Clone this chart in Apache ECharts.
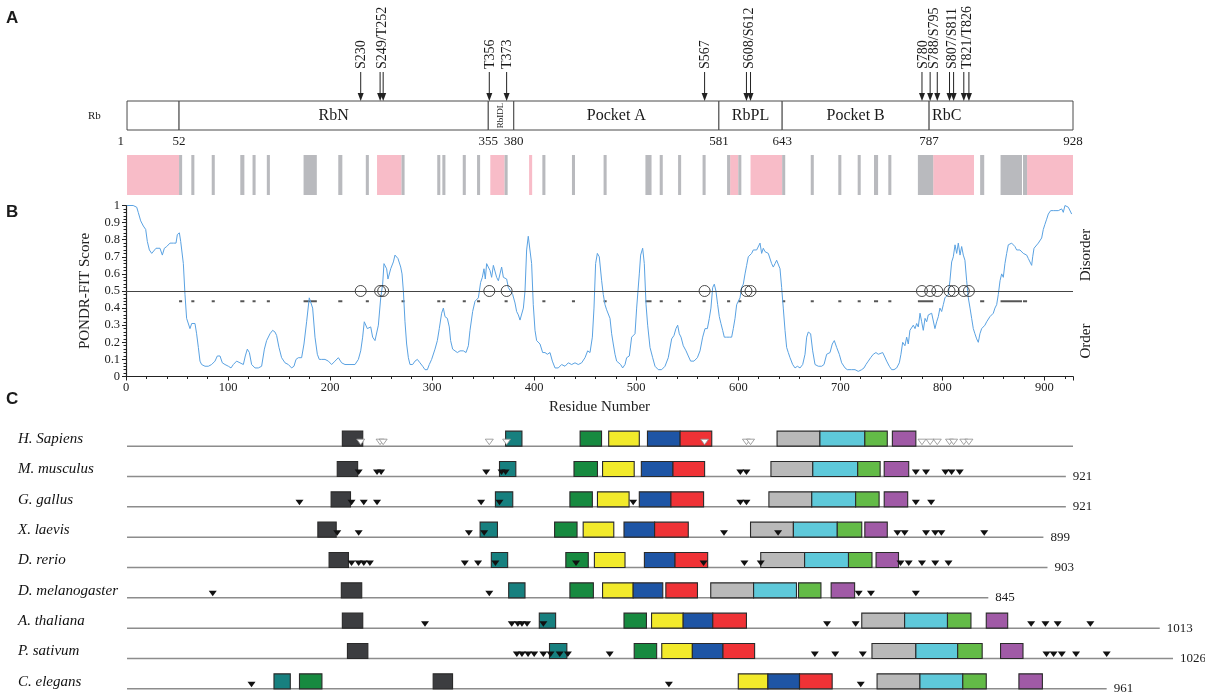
<!DOCTYPE html>
<html><head><meta charset="utf-8">
<script src="https://cdn.jsdelivr.net/npm/echarts@6/dist/echarts.min.js"></script>
<style>html,body{margin:0;padding:0;background:#fff}#c{width:1205px;height:697px}</style>
</head><body><div id="c"></div>
<script>
// ---------------- data ----------------
// Panel A: Rb domain boundaries and names
const domainBounds = [1, 52, 355, 380, 581, 643, 787, 928];
const domainNames = ['', 'RbN', 'RbIDL', 'Pocket A', 'RbPL', 'Pocket B', 'RbC'];
// phosphorylation sites (human Rb)
const phosphoSites = [230, 249, 252, 356, 373, 567, 608, 612, 780, 788, 795, 807, 811, 821, 826];
const siteLabels = ['S230', 'S249/T252', 'T356', 'T373', 'S567', 'S608/S612', 'S780', 'S788/S795', 'S807/S811', 'T821/T826'];
// disorder stripe (pink) and MoRF-like stripes (grey), residues
const pinkRegions = [[1, 52], [246, 270], [357, 371], [395, 398], [592, 600], [612, 643], [791, 831], [883, 928]];
const grayRegions = [[52, 55], [64, 67], [84, 87], [112, 116], [124, 127], [138, 141], [174, 187], [208, 212],
  [235, 238], [270, 273], [305, 308], [310, 313], [330, 333], [344, 347], [371, 374], [408, 411], [437, 440],
  [468, 471], [509, 515], [523, 526], [541, 544], [565, 568], [589, 592], [600, 603], [643, 646], [671, 674],
  [698, 701], [717, 720], [733, 737], [747, 750], [776, 791], [837, 841], [857, 878], [879, 883]];
// Panel B: PONDR-FIT score [residue, score]
const pondrFit = [[1,1.0],[7,1.0],[10.5,0.99],[12,0.96],[14.4,0.91],[17,0.88],[19.3,0.86],[20.9,0.79],[22.9,0.74],[25.2,0.72],[26.8,0.73],[29.4,0.75],[31,0.74],[33.3,0.75],[35.6,0.71],[37.6,0.75],[39.9,0.76],[43.1,0.78],[46.4,0.78],[49,0.78],[50.3,0.83],[52.3,0.84],[53.6,0.79],[54.9,0.79],[56.2,0.66],[57.8,0.48],[59.4,0.34],[61.1,0.33],[62.7,0.28],[64.4,0.31],[66,0.32],[67.6,0.31],[69.2,0.25],[70.9,0.17],[72.5,0.09],[74.1,0.07],[77.4,0.06],[80.7,0.06],[83.9,0.07],[87.2,0.09],[89.5,0.12],[92.1,0.12],[94.4,0.08],[97,0.07],[100.3,0.06],[102.9,0.05],[105.2,0.07],[108.4,0.09],[111.7,0.08],[115,0.07],[116.9,0.12],[118.9,0.16],[120.9,0.14],[123.1,0.07],[126.4,0.05],[129.7,0.05],[132.9,0.06],[135.6,0.16],[137.8,0.21],[141.1,0.25],[143.7,0.27],[146,0.26],[147.6,0.24],[149.9,0.17],[152.5,0.11],[155.8,0.08],[159.1,0.07],[162.3,0.05],[164.6,0.06],[166.6,0.1],[168.9,0.11],[172.1,0.11],[174.4,0.19],[177,0.32],[179.6,0.46],[181.3,0.47],[182.9,0.4],[185.2,0.23],[187.5,0.13],[189.4,0.1],[191.7,0.1],[195,0.1],[198.3,0.09],[201.5,0.07],[204.8,0.09],[208.1,0.11],[211.3,0.08],[214.6,0.07],[219.5,0.07],[224.4,0.07],[227.7,0.1],[230,0.15],[231.9,0.23],[233.5,0.32],
[235.2,0.33],[236.5,0.28],[238.4,0.29],[239.8,0.29],[241.7,0.23],[244,0.21],[245.6,0.21],[247.3,0.3],[249.6,0.46],[251.5,0.54],[252.8,0.66],[254.1,0.67],[255.4,0.63],[256.7,0.57],[258,0.58],[259.4,0.63],[260.7,0.63],[262,0.67],[263.6,0.71],[265.2,0.72],[266.5,0.69],[267.8,0.7],[269.2,0.64],[270.5,0.6],[271.8,0.5],[273.4,0.32],[275,0.19],[276.7,0.11],[278.3,0.07],[280.9,0.07],[283.2,0.09],[285.5,0.1],[288.1,0.08],[290.7,0.06],[293,0.04],[295.3,0.04],[297.2,0.07],[299.5,0.1],[302.8,0.16],[305.1,0.21],[307,0.28],[309.3,0.37],[311,0.4],[312.6,0.35],[314.9,0.34],[316.8,0.29],[318.1,0.21],[320.1,0.16],[322.4,0.15],[324.7,0.14],[327.3,0.15],[328.9,0.14],[330.6,0.15],[333.2,0.14],[335.5,0.18],[337.1,0.27],[339.7,0.38],[342,0.44],[343.6,0.44],[345.3,0.46],[347.5,0.55],[349.2,0.58],[350.8,0.63],[352.1,0.57],[353.4,0.66],[355.1,0.67],[356.7,0.62],[358.3,0.58],[360,0.65],[361.6,0.64],[363.2,0.58],[364.9,0.56],[366.5,0.6],[368.1,0.64],[369.8,0.58],[371.4,0.57],[373,0.57],[374.7,0.52],[376.3,0.51],[378.9,0.48],[381.2,0.43],[382.8,0.38],[384.5,0.36],[386.1,0.33],[387.7,0.34],[389.4,0.4],[391,0.5],[392.6,0.74],[394.2,0.82],[395.9,0.82],[397.5,0.66],[399.1,0.42],[400.8,0.27],[402.4,0.21],[405.7,0.19],[408.3,0.14],[410.6,0.14],[412.9,0.13],[415.5,0.14],[417.8,0.09],[420.4,0.05],[423.6,0.05],[426.9,0.07],[430.2,0.06],[433.4,0.08],[436.7,0.07],[440,0.08],[443.2,0.07],[446.5,0.08],[449.8,0.11],[452.4,0.15],[454.7,0.14],[457,0.23],[458.6,0.4],[460.2,0.66],[461.9,0.72],[463.8,0.7],
[466.1,0.56],[467.7,0.48],[469.4,0.42],[471,0.39],[472.6,0.39],[474.3,0.34],[475.9,0.25],[477.5,0.19],[479.2,0.13],[480.8,0.09],[482.4,0.08],[484.7,0.07],[486.7,0.05],[489,0.07],[490.6,0.11],[493.2,0.12],[495.5,0.23],[497.1,0.24],[498.8,0.25],[500.4,0.4],[503,0.6],[504.3,0.71],[506.3,0.75],[507.9,0.66],[509.6,0.42],[511.2,0.3],[513.5,0.17],[516.1,0.11],[518.4,0.06],[521.6,0.04],[524.9,0.04],[528.2,0.06],[531.4,0.11],[534.7,0.22],[537,0.24],[538.9,0.28],[540.6,0.3],[542.2,0.25],[543.9,0.23],[546.1,0.18],[548.8,0.15],[551,0.12],[553.3,0.09],[556.6,0.09],[559.9,0.11],[562.5,0.15],[565.1,0.23],[567.4,0.28],[569.7,0.28],[571.6,0.34],[573.2,0.4],[574.9,0.52],[576.5,0.54],[578.1,0.5],[579.8,0.42],[581.4,0.35],[583,0.31],[584.7,0.27],[586.3,0.23],[588.6,0.23],[591.2,0.23],[593.5,0.23],[595.1,0.28],[596.8,0.34],[598.4,0.42],[600,0.42],[601.7,0.46],[603.3,0.52],[604.9,0.54],[606.6,0.6],[608.2,0.65],[609.8,0.7],[611.5,0.69],[613.1,0.72],[614.7,0.74],[616.4,0.73],[618,0.74],[619.6,0.75],[621.3,0.78],[622.9,0.72],[624.5,0.75],[626.2,0.73],[627.8,0.74],[629.4,0.72],[631.1,0.71],[632.7,0.66],[634.3,0.64],[636,0.66],[637.6,0.68],[639.2,0.69],[640.9,0.63],[642.5,0.52],[644.1,0.4],[645.8,0.27],[647.4,0.17],[649,0.14],[650.7,0.11],[653.3,0.07],[655.6,0.05],[657.9,0.06],[660.5,0.05],[663.1,0.07],[665.4,0.13],[667,0.23],[668.6,0.26],[670.9,0.25],[672.9,0.15],[675.2,0.07],[678.4,0.06],[681.7,0.06],[684,0.07],[686.6,0.13],[688.2,0.14],[689.9,0.14],[692.1,0.19],[694.1,0.21],[696.4,0.17],[699,0.13],[701.3,0.08],[704.6,0.05],
[706.8,0.04],[711.1,0.04],[714.4,0.04],[717.6,0.03],[720.9,0.04],[723.2,0.05],[725.1,0.07],[727.4,0.09],[729.7,0.11],[732.3,0.13],[734.9,0.14],[737.2,0.13],[738.9,0.14],[741.5,0.14],[743.1,0.12],[745.4,0.09],[748,0.06],[750.3,0.04],[752.6,0.04],[755.2,0.05],[757.8,0.08],[759.4,0.13],[761.1,0.2],[763.3,0.18],[765,0.23],[766.6,0.19],[768.2,0.27],[769.9,0.28],[771.5,0.3],[773.2,0.28],[774.8,0.31],[776.4,0.29],[778.1,0.37],[779.7,0.32],[781.3,0.27],[783,0.34],[784.6,0.32],[786.2,0.36],[787.8,0.35],[789.5,0.37],[791.1,0.38],[792.7,0.28],[794.4,0.32],[796,0.35],[797.6,0.4],[799.3,0.38],[800.9,0.42],[802.5,0.46],[804.2,0.46],[805.8,0.48],[807.4,0.56],[809.1,0.67],[810.7,0.7],[812.4,0.77],[814,0.72],[815.6,0.78],[817.3,0.71],[818.9,0.76],[820.5,0.71],[822.1,0.68],[823.8,0.56],[825.4,0.46],[827.1,0.4],[828.7,0.34],[830.3,0.28],[831.9,0.25],[833.6,0.22],[835.2,0.2],[836.8,0.25],[838.5,0.28],[840.1,0.28],[841.7,0.3],[843.4,0.32],[845,0.31],[846.6,0.35],[848.3,0.34],[849.9,0.37],[851.5,0.4],[853.2,0.42],[854.8,0.48],[856.5,0.56],[858.1,0.6],[859.7,0.58],[861.3,0.66],[863,0.72],[864.6,0.77],[866.2,0.78],[867.9,0.78],[869.5,0.78],[871.1,0.76],[872.8,0.74],[874.4,0.73],[876,0.74],[877.7,0.73],[879.3,0.72],[881,0.73],[882.6,0.71],[884.2,0.69],[885.9,0.68],[887.5,0.65],[888.5,0.7],[889.8,0.75],[891.7,0.76],[894,0.78],[895.6,0.79],[897.3,0.81],[898.9,0.86],[900.5,0.89],[902.2,0.92],[903.8,0.95],[906.1,0.97],[908.7,0.97],[911.3,0.97],[913.6,0.97],[915.2,0.96],[916.9,0.98],[918.5,0.96],[920.1,1.0],[921.8,0.99],[923.4,0.99],[925,0.98],[926.7,0.95]];
const yTickValues = [0, 0.1, 0.2, 0.3, 0.4, 0.5, 0.6, 0.7, 0.8, 0.9, 1];
// Panel C: species, protein lengths, domain boxes (10 conserved segments, same order) and phosphosites
const species = ['H. Sapiens', 'M. musculus', 'G. gallus', 'X. laevis', 'D. rerio', 'D. melanogaster', 'A. thaliana', 'P. sativum', 'C. elegans'];
const proteinLengths = [928, 921, 921, 899, 903, 845, 1013, 1026, 961];
const hsDomains = [[212,232],[372,388],[445,466],[473,503],[511,543],[543,574],[638,680],[680,724],[724,746],[751,774]];
const mmDomains = [[207,227],[366,382],[439,462],[467,498],[505,536],[536,567],[632,673],[673,717],[717,739],[743,767]];
const ggDomains = [[201,220],[362,379],[435,457],[462,493],[503,534],[534,566],[630,672],[672,715],[715,738],[743,766]];
const xlDomains = [[188,206],[347,364],[420,442],[448,478],[488,518],[518,551],[612,654],[654,697],[697,721],[724,746]];
const drDomains = [[199,218],[358,374],[431,453],[459,489],[508,538],[538,570],[622,665],[665,708],[708,731],[735,757]];
const dmDomains = [[211,231],[375,391],[435,458],[467,497],[497,526],[529,560],[573,615],[615,657],[659,681],[691,714]];
const atDomains = [[212,232],[405,421],[488,510],[515,546],[546,575],[575,608],[721,763],[763,805],[805,828],[843,864]];
const psDomains = [[217,237],[415,432],[498,520],[525,555],[555,585],[585,616],[731,774],[774,815],[815,839],[857,879]];
const ceDomains = [[301,320],[145,161],[170,192],[600,629],[629,660],[660,692],[736,778],[778,820],[820,843],[875,898]];
const mmSites = [228,246,250,353,368,372,602,608,774,784,803,809,817];
const ggSites = [170,221,233,246,348,366,497,602,608,774,789];
const xlSites = [207,228,336,351,586,639,756,763,784,793,799,841];
const drSites = [221,228,233,239,332,345,362,441,566,606,622,759,767,780,793,806];
const dmSites = [85,356,718,730,774];
const atSites = [293,378,384,388,393,409,687,715,887,901,913,945];
const psSites = [383,388,394,400,409,416,425,433,474,675,695,722,902,909,917,931,961];
const ceSites = [123,532,720];

// ---------------- styling / assembly ----------------
const SERIF = '"Liberation Serif", "Times New Roman", serif';
const SANS = '"Liberation Sans", Arial, sans-serif';
const boxColors = ['#3c3d40','#17807f','#178a40','#f2ea2b','#1e55a5','#ef3236','#b9b9b9','#5ec9da','#63bb47','#a05aa6'];
const speciesDomains = [hsDomains, mmDomains, ggDomains, xlDomains, drDomains, dmDomains, atDomains, psDomains, ceDomains];
const speciesSites = [phosphoSites, mmSites, ggSites, xlSites, drSites, dmSites, atSites, psSites, ceSites];
const ROW_BASE = 7; // px from band centre to the protein line
const BOX_H = 15;

const domainItems = [];
for (let i = 0; i < domainBounds.length - 1; i++) domainItems.push([domainBounds[i], domainBounds[i + 1], i]);
const stripeItems = pinkRegions.map(r => [r[0], r[1], 0]).concat(grayRegions.map(r => [r[0], r[1], 1]));
const labelItems = siteLabels.map((lab, i) => {
  const nums = lab.match(/\d+/g).map(Number);
  return [nums.reduce((a, b) => a + b, 0) / nums.length, i];
});
const boxItems = [];
speciesDomains.forEach((ds, i) => ds.forEach((d, j) => boxItems.push([d[0], d[1], i, j])));
const triItems = [];
speciesSites.forEach((ss, i) => ss.forEach(s => triItems.push([s, i])));
const rowItems = proteinLengths.map((L, i) => [L, i]);

function txt(x, y, text, font, align, valign, extra) {
  return Object.assign({ type: 'text', x: x, y: y, style: { text: text, font: font, fill: '#1a1a1a',
    align: align, textAlign: align, verticalAlign: valign, textVerticalAlign: valign } }, extra || {});
}

const option = {
  animation: false,
  backgroundColor: '#fff',
  grid: [
    { left: 126, right: 132, top: 101, height: 29 },
    { left: 126, right: 132, top: 155, height: 40 },
    { left: 126, right: 132, top: 205.5, height: 171 },
    { left: 126, right: 7.5, top: 424, height: 275 }
  ],
  xAxis: [
    { gridIndex: 0, type: 'value', min: 0, max: 928, show: false },
    { gridIndex: 1, type: 'value', min: 0, max: 928, show: false },
    { gridIndex: 2, type: 'value', min: 0, max: 928, interval: 100,
      axisLine: { lineStyle: { color: '#222', width: 1.2 } },
      axisTick: { length: 4, lineStyle: { color: '#222' } },
      minorTick: { show: true, splitNumber: 5, length: 2.5, lineStyle: { color: '#222' } },
      splitLine: { show: false }, minorSplitLine: { show: false },
      axisLabel: { fontFamily: SERIF, fontSize: 12.5, color: '#222', margin: 5, showMaxLabel: false },
      name: 'Residue Number', nameLocation: 'middle', nameGap: 23,
      nameTextStyle: { fontFamily: SERIF, fontSize: 15, color: '#222' } },
    { gridIndex: 3, type: 'value', min: 0, max: 1050, show: false }
  ],
  yAxis: [
    { gridIndex: 0, type: 'value', min: 0, max: 1, show: false },
    { gridIndex: 1, type: 'value', min: 0, max: 1, show: false },
    { gridIndex: 2, type: 'value', min: 0, max: 1, interval: 0.1,
      axisLine: { show: true, lineStyle: { color: '#222', width: 1.2 } },
      axisTick: { show: true, length: 4, lineStyle: { color: '#222' } },
      minorTick: { show: true, splitNumber: 5, length: 2.5, lineStyle: { color: '#222' } },
      splitLine: { show: false }, minorSplitLine: { show: false },
      axisLabel: { fontFamily: SERIF, fontSize: 12.5, color: '#222', margin: 6,
        formatter: v => String(yTickValues[Math.round(v * 10)]) },
      name: 'PONDR-FIT Score', nameLocation: 'middle', nameGap: 33,
      nameTextStyle: { fontFamily: SERIF, fontSize: 15, color: '#222' } },
    { gridIndex: 3, type: 'category', data: species, inverse: true,
      axisLine: { show: false }, axisTick: { show: false }, splitLine: { show: false },
      axisLabel: { align: 'left', margin: 108, fontFamily: SERIF, fontStyle: 'italic', fontSize: 15, color: '#111' } }
  ],
  graphic: [
    txt(6, 18, 'A', 'bold 17px ' + SANS, 'left', 'middle'),
    txt(6, 212, 'B', 'bold 17px ' + SANS, 'left', 'middle'),
    txt(6, 399, 'C', 'bold 17px ' + SANS, 'left', 'middle'),
    txt(88, 116, 'Rb', '11px ' + SERIF, 'left', 'middle'),
    txt(1086, 255, 'Disorder', '15px ' + SERIF, 'center', 'middle', { rotation: Math.PI / 2 }),
    txt(1086, 341, 'Order', '15px ' + SERIF, 'center', 'middle', { rotation: Math.PI / 2 })
  ],
  series: [
    { // domain bar
      type: 'custom', xAxisIndex: 0, yAxisIndex: 0, data: domainItems, z: 2,
      renderItem: (params, api) => {
        const a = api.coord([api.value(0), 1]), b = api.coord([api.value(1), 0]);
        const name = domainNames[api.value(2)];
        const ch = [{ type: 'rect', shape: { x: a[0], y: a[1], width: b[0] - a[0], height: b[1] - a[1] },
          style: { fill: '#fff', stroke: '#4a4a4a', lineWidth: 1 } }];
        const cx = (a[0] + b[0]) / 2, cy = (a[1] + b[1]) / 2;
        if (name === 'RbIDL') ch.push(txt(cx, cy, name, '9px ' + SERIF, 'center', 'middle', { rotation: Math.PI / 2 }));
        else if (name === 'RbC') ch.push(txt(a[0] + 3, cy, name, '16px ' + SERIF, 'left', 'middle'));
        else if (name) ch.push(txt(cx, cy, name, '16px ' + SERIF, 'center', 'middle'));
        return { type: 'group', children: ch };
      }
    },
    { // boundary numbers
      type: 'custom', xAxisIndex: 0, yAxisIndex: 0, data: domainBounds.map(v => [v]), z: 2,
      renderItem: (params, api) => {
        const p = api.coord([api.value(0), 0]);
        const first = params.dataIndex === 0;
        return txt(first ? p[0] - 3 : p[0], p[1] + 12, String(api.value(0)), '13px ' + SERIF, first ? 'right' : 'center', 'middle');
      }
    },
    { // arrows
      type: 'custom', xAxisIndex: 0, yAxisIndex: 0, data: phosphoSites.map(v => [v]), z: 3,
      renderItem: (params, api) => {
        const p = api.coord([api.value(0), 1]);
        return { type: 'group', children: [
          { type: 'line', shape: { x1: p[0], y1: p[1] - 29, x2: p[0], y2: p[1] - 6 }, style: { stroke: '#222', lineWidth: 1 } },
          { type: 'polygon', shape: { points: [[p[0] - 3, p[1] - 8], [p[0] + 3, p[1] - 8], [p[0], p[1]]] }, style: { fill: '#222' } }
        ] };
      }
    },
    { // site labels
      type: 'custom', xAxisIndex: 0, yAxisIndex: 0, data: labelItems, z: 3,
      renderItem: (params, api) => {
        const p = api.coord([api.value(0), 1]);
        return txt(p[0] + 1, p[1] - 32, siteLabels[api.value(1)], '14px ' + SERIF, 'left', 'middle', { rotation: Math.PI / 2 });
      }
    },
    { // stripes
      type: 'custom', xAxisIndex: 1, yAxisIndex: 1, data: stripeItems, z: 2,
      renderItem: (params, api) => {
        const a = api.coord([api.value(0), 1]), b = api.coord([api.value(1), 0]);
        return { type: 'rect', shape: { x: a[0], y: a[1], width: Math.max(b[0] - a[0], 1), height: b[1] - a[1] },
          style: { fill: api.value(2) === 0 ? '#f8bcc8' : '#b9babe' } };
      }
    },
    { // PONDR-FIT line
      type: 'line', xAxisIndex: 2, yAxisIndex: 2, data: pondrFit, showSymbol: false, symbol: 'none', z: 3,
      lineStyle: { color: '#5aa2e2', width: 1 },
      markLine: { silent: true, symbol: 'none', label: { show: false },
        lineStyle: { color: '#444', type: 'solid', width: 1.2 }, data: [{ yAxis: 0.5 }] }
    },
    { // dashes at 0.44
      type: 'custom', xAxisIndex: 2, yAxisIndex: 2, data: grayRegions.map(r => [r[0], r[1]]), z: 2,
      renderItem: (params, api) => {
        const a = api.coord([api.value(0), 0.44]), b = api.coord([api.value(1), 0.44]);
        return { type: 'rect', shape: { x: a[0], y: a[1] - 1, width: Math.max(b[0] - a[0], 1.5), height: 2 }, style: { fill: '#555' } };
      }
    },
    { // circles at phosphosites
      type: 'scatter', xAxisIndex: 2, yAxisIndex: 2, data: phosphoSites.map(s => [s, 0.5]), z: 4,
      symbol: 'circle', symbolSize: 11,
      itemStyle: { color: 'rgba(0,0,0,0)', borderColor: '#222', borderWidth: 1 }
    },
    { // protein lines + lengths
      type: 'custom', xAxisIndex: 3, yAxisIndex: 3, data: rowItems, z: 1,
      renderItem: (params, api) => {
        const i = api.value(1);
        const a = api.coord([1, i]), b = api.coord([api.value(0), i]);
        const y = a[1] + ROW_BASE;
        const ch = [{ type: 'line', shape: { x1: a[0], y1: y, x2: b[0], y2: y }, style: { stroke: '#8c8c8c', lineWidth: 1.5 } }];
        if (i > 0) ch.push(txt(b[0] + 7, y, String(api.value(0)), '13px ' + SERIF, 'left', 'middle'));
        return { type: 'group', children: ch };
      }
    },
    { // domain boxes
      type: 'custom', xAxisIndex: 3, yAxisIndex: 3, data: boxItems, z: 2,
      renderItem: (params, api) => {
        const i = api.value(2);
        const a = api.coord([api.value(0), i]), b = api.coord([api.value(1), i]);
        const y = a[1] + ROW_BASE;
        return { type: 'rect', shape: { x: a[0], y: y - BOX_H, width: b[0] - a[0], height: BOX_H },
          style: { fill: boxColors[api.value(3)], stroke: '#2a2a2a', lineWidth: 1.1 } };
      }
    },
    { // phosphosite triangles
      type: 'custom', xAxisIndex: 3, yAxisIndex: 3, data: triItems, z: 3,
      renderItem: (params, api) => {
        const i = api.value(1);
        const p = api.coord([api.value(0), i]);
        const y = p[1] + ROW_BASE;
        const hollow = i === 0;
        return { type: 'polygon', shape: { points: [[p[0] - 4, y - 7], [p[0] + 4, y - 7], [p[0], y - 1.5]] },
          style: hollow ? { fill: '#fff', stroke: '#8c8c8c', lineWidth: 0.8 } : { fill: '#111' } };
      }
    }
  ]
};
const chart = echarts.init(document.getElementById('c'));
chart.setOption(option);
</script>
</body></html>
